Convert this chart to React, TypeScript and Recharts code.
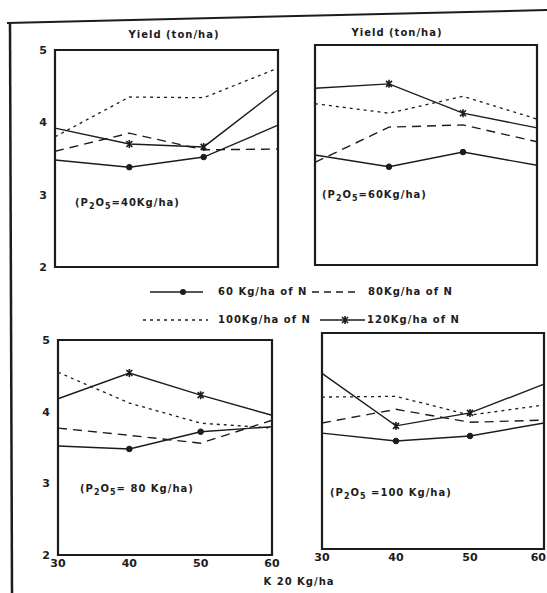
import React from 'react';
import { LineChart, Line, XAxis, YAxis, ReferenceArea } from 'recharts';

const K_LEVELS = [30, 40, 50, 60];
const Y_TICKS = [2, 3, 4, 5];

// P2O5 = 40 Kg/ha
const P40_N60 = [3.48, 3.38, 3.52, 3.96];
const P40_N80 = [3.6, 3.85, 3.62, 3.63];
const P40_N100 = [3.8, 4.35, 4.34, 4.75];
const P40_N120 = [3.92, 3.7, 3.66, 4.45];

// P2O5 = 60 Kg/ha
const P60_N60 = [3.5, 3.34, 3.54, 3.36];
const P60_N80 = [3.4, 3.88, 3.91, 3.68];
const P60_N100 = [4.2, 4.07, 4.3, 3.99];
const P60_N120 = [4.41, 4.47, 4.07, 3.87];

// P2O5 = 80 Kg/ha
const P80_N60 = [3.52, 3.48, 3.72, 3.79];
const P80_N80 = [3.77, 3.67, 3.56, 3.88];
const P80_N100 = [4.55, 4.12, 3.84, 3.77];
const P80_N120 = [4.18, 4.54, 4.23, 3.95];

// P2O5 = 100 Kg/ha
const P100_N60 = [3.61, 3.5, 3.57, 3.75];
const P100_N80 = [3.75, 3.94, 3.76, 3.79];
const P100_N100 = [4.11, 4.12, 3.86, 4.0];
const P100_N120 = [4.44, 3.71, 3.89, 4.29];

const INK = '#1c1c1c';
const FONT = '"DejaVu Sans", sans-serif';
const PAGE_W = 547;

const circleDot = (props: any) => {
    const { cx, cy, index } = props;
    if (index === 0 || index === 3) return <g key={`c-${index}`} />;
    return <circle key={`c-${index}`} cx={cx} cy={cy} r={2.8} fill={INK} stroke={INK} />;
};

const starDot = (props: any) => {
    const { cx, cy, index } = props;
    if (index === 0 || index === 3) return <g key={`s-${index}`} />;
    return (
        <path
            key={`s-${index}`}
            d={`M${cx - 3},${cy - 3}L${cx + 3},${cy + 3}M${cx + 3},${cy - 3}L${cx - 3},${cy + 3}M${cx},${cy - 4}L${cx},${cy + 4}`}
            stroke={INK}
            strokeWidth={1.6}
            fill="none"
        />
    );
};

interface Box { x1: number; y1: number; x2: number; y2: number }

interface PanelProps {
    box: Box;
    n60: number[];
    n80: number[];
    n100: number[];
    n120: number[];
    showX: boolean;
    showY: boolean;
}

const tickStyle = { fontSize: 11, fontWeight: 'bold' as const, fill: INK, fontFamily: FONT };

const Panel: React.FC<PanelProps> = ({ box, n60, n80, n100, n120, showX, showY }) => {
    const data = K_LEVELS.map((k, i) => ({ k, n60: n60[i], n80: n80[i], n100: n100[i], n120: n120[i] }));
    const left = box.x1 - 30;
    const top = box.y1 - 10;
    const width = box.x2 - box.x1 + 40;
    const height = box.y2 - box.y1 + 40;

    // keep a tick label that would run past the page edge inside it
    const renderXTick = (p: any) => {
        const { x, y, payload } = p;
        const pageEdge = PAGE_W - 1 - left;
        const nearEdge = x + 8 > pageEdge;
        return (
            <text
                key={`t-${payload.value}`}
                x={nearEdge ? pageEdge : x}
                y={y}
                dy="0.71em"
                textAnchor={nearEdge ? 'end' : 'middle'}
                {...tickStyle}
            >
                {payload.value}
            </text>
        );
    };

    return (
        <div style={{ position: 'absolute', left, top }}>
            <LineChart
                width={width}
                height={height}
                data={data}
                margin={{ top: 10, right: 10, bottom: showX ? 10 : 30, left: showY ? 10 : 30 }}
            >
                <XAxis
                    dataKey="k"
                    type="number"
                    domain={[30, 60]}
                    ticks={K_LEVELS}
                    hide={!showX}
                    height={20}
                    axisLine={false}
                    tickLine={false}
                    tickSize={2}
                    tick={renderXTick}
                />
                <YAxis
                    type="number"
                    domain={[2, 5]}
                    ticks={Y_TICKS}
                    hide={!showY}
                    width={20}
                    axisLine={false}
                    tickLine={false}
                    tick={tickStyle}
                />
                <ReferenceArea
                    x1={30}
                    x2={60}
                    y1={2}
                    y2={5}
                    fill="none"
                    stroke={INK}
                    strokeWidth={2.2}
                    ifOverflow="visible"
                />
                <Line dataKey="n60" type="linear" stroke={INK} strokeWidth={1.4} dot={circleDot} isAnimationActive={false} />
                <Line dataKey="n80" type="linear" stroke={INK} strokeWidth={1.4} strokeDasharray="9 6" dot={false} isAnimationActive={false} />
                <Line dataKey="n100" type="linear" stroke={INK} strokeWidth={1.3} strokeDasharray="3 4" dot={false} isAnimationActive={false} />
                <Line dataKey="n120" type="linear" stroke={INK} strokeWidth={1.4} dot={starDot} isAnimationActive={false} />
            </LineChart>
        </div>
    );
};

const textStyle: React.CSSProperties = {
    position: 'absolute',
    whiteSpace: 'nowrap',
    fontFamily: FONT,
    fontWeight: 'bold',
    fontSize: 10,
    letterSpacing: 1,
    color: INK,
    lineHeight: '14px',
};

const Txt: React.FC<{ x: number; y: number; center?: boolean; children: React.ReactNode }> = ({ x, y, center, children }) => (
    <div style={{ ...textStyle, left: x, top: y, transform: center ? 'translate(-50%, -50%)' : 'translateY(-50%)' }}>
        {children}
    </div>
);

const subStyle: React.CSSProperties = { fontSize: 8, verticalAlign: -3 };

const PLabel: React.FC<{ x: number; y: number; rest: string }> = ({ x, y, rest }) => (
    <Txt x={x} y={y}>
        (P<span style={subStyle}>2</span>O<span style={subStyle}>5</span>{rest})
    </Txt>
);

export default function App() {
    return (
        <div style={{ position: 'absolute', left: 0, top: 0, width: 547, height: 593, background: '#fff', overflow: 'hidden' }}>
            <svg width={547} height={593} style={{ position: 'absolute', left: 0, top: 0 }}>
                <line x1={7} y1={23} x2={547} y2={10} stroke={INK} strokeWidth={2} />
                <line x1={10} y1={22} x2={12} y2={593} stroke={INK} strokeWidth={2.5} />
                <line x1={150} y1={292} x2={203} y2={292} stroke={INK} strokeWidth={1.6} />
                <circle cx={183} cy={292} r={3} fill={INK} />
                <line x1={312} y1={292} x2={356} y2={292} stroke={INK} strokeWidth={1.6} strokeDasharray="7 5" />
                <line x1={143} y1={320} x2={208} y2={320} stroke={INK} strokeWidth={1.5} strokeDasharray="3 4" />
                <line x1={320} y1={320} x2={365} y2={320} stroke={INK} strokeWidth={1.6} />
                <path d="M342,317L348,323M348,317L342,323M345,316L345,324" stroke={INK} strokeWidth={1.6} />
            </svg>

            <Txt x={174} y={35} center>Yield (ton/ha)</Txt>
            <Txt x={397} y={33} center>Yield (ton/ha)</Txt>

            <Panel box={{ x1: 55, y1: 50, x2: 278, y2: 267 }} n60={P40_N60} n80={P40_N80} n100={P40_N100} n120={P40_N120} showX={false} showY />
            <Panel box={{ x1: 315, y1: 45, x2: 537, y2: 265 }} n60={P60_N60} n80={P60_N80} n100={P60_N100} n120={P60_N120} showX={false} showY={false} />
            <Panel box={{ x1: 58, y1: 340, x2: 272, y2: 555 }} n60={P80_N60} n80={P80_N80} n100={P80_N100} n120={P80_N120} showX showY />
            <Panel box={{ x1: 322, y1: 333, x2: 544, y2: 549 }} n60={P100_N60} n80={P100_N80} n100={P100_N100} n120={P100_N120} showX showY={false} />

            <PLabel x={75} y={205} rest="=40Kg/ha" />
            <PLabel x={322} y={197} rest="=60Kg/ha" />
            <PLabel x={80} y={491} rest="= 80 Kg/ha" />
            <PLabel x={330} y={495} rest=" =100 Kg/ha" />

            <Txt x={218} y={292}>60 Kg/ha of N</Txt>
            <Txt x={368} y={292}>80Kg/ha of N</Txt>
            <Txt x={218} y={320}>100Kg/ha of N</Txt>
            <Txt x={367} y={320}>120Kg/ha of N</Txt>

            <Txt x={299} y={582} center>K 20 Kg/ha</Txt>
        </div>
    );
}
